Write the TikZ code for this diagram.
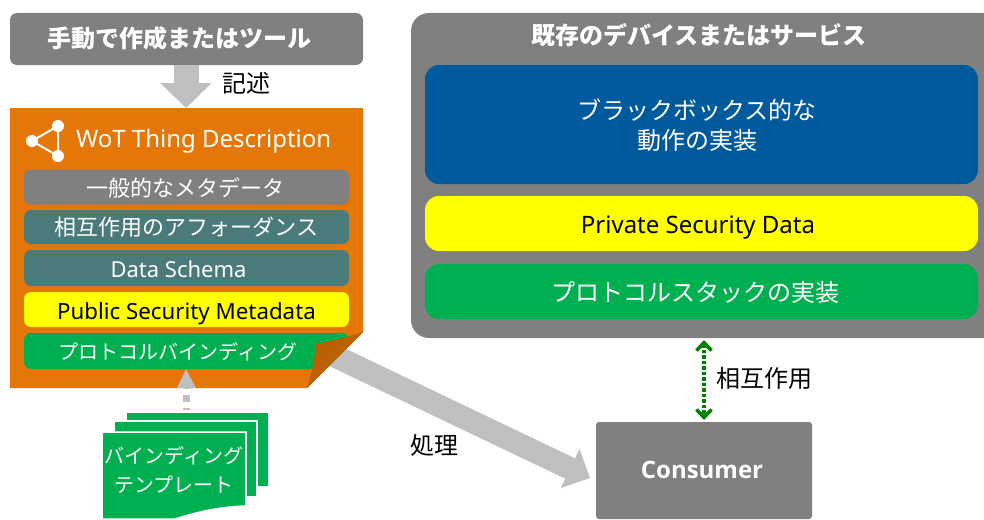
\documentclass[tikz,border=0pt]{standalone}
\usepackage{fontspec}
\usetikzlibrary{arrows.meta,calc}
\setmainfont{Noto Sans}
\newfontfamily\cjk{Noto Sans CJK JP}
\newfontfamily\boldlatin{Open Sans}
\definecolor{boxgray}{HTML}{808080}
\definecolor{arrowgray}{HTML}{BFBFBF}
\definecolor{noteorange}{HTML}{E57708}
\definecolor{folddark}{HTML}{BC5F05}
\definecolor{teal}{HTML}{4A7A7A}
\definecolor{wotgreen}{HTML}{00B050}
\definecolor{wotblue}{HTML}{005A9C}
\definecolor{wotyellow}{HTML}{FFFF00}
\definecolor{linkgreen}{HTML}{008000}
\tikzset{
  panel/.style={inner sep=0pt,outer sep=0pt,align=center,text=white},
  rowbox/.style={panel,rounded corners=7pt,minimum width=325pt},
  bigbox/.style={panel,rounded corners=14pt,minimum width=553pt},
  lbl/.style={inner sep=0pt,outer sep=0pt,text=black},
  page/.style={fill=wotgreen,draw=white,line width=1.5pt},
}
\newcommand{\fs}[1]{\fontsize{#1}{#1}\selectfont}
\begin{document}
\begin{tikzpicture}[x=1pt,y=-1pt]
\useasboundingbox (0,0) rectangle (984,519);
\clip (0,0) rectangle (984,519);
\fill[white] (0,0) rectangle (984,519);
% top left
\node[panel,fill=boxgray,rounded corners=7pt,minimum width=353pt,minimum height=52pt] (tool) at (186.5,39) {};
\node[panel] (tooltext) at (179,38) {\cjk\bfseries\fs{24}手動で作成またはツール};
% note anchor points
\coordinate (notetop) at (186,108);
\coordinate (notecorner) at (320,349);
\coordinate (consumertip) at (590,478);
% big arrow
\draw[arrowgray,line width=22.6pt,-{Triangle[length=22pt,width=42pt]}] (notecorner) -- (consumertip);
% note
\fill[noteorange] (10,108) -- (363,108) -- (363,332) -- (307,388) -- (10,388) -- cycle;
\draw[arrowgray,line width=25pt,-{Triangle[length=25pt,width=50pt]}] (tool.south -| notetop) -- (notetop);
\node[lbl,anchor=west] (write) at (222,83) {\cjk\fs{24}記述};
% icon
\coordinate (ia) at (32,141);
\coordinate (ib) at (58,126);
\coordinate (ic) at (58,156);
\draw[white,line width=2pt] (ia) -- (ib) -- (ic) -- cycle;
\foreach \p in {ia,ib,ic} \fill[white] (\p) circle (6);
\node[panel,anchor=west] (title) at (76,141) {\fs{24}WoT Thing Description};
% rows
\node[rowbox,fill=boxgray,minimum height=35pt] (meta) at (186.5,187) {};
\node[panel] (metatext) at (185,188) {\cjk\fs{22}一般的なメタデータ};
\node[rowbox,fill=teal,minimum height=34pt] (afford) at (186.5,227) {\cjk\fs{22}相互作用のアフォーダンス};
\node[rowbox,fill=teal,minimum height=36pt] (schema) at (186.5,268) {};
\node[panel] (schematext) at (178.5,269) {\fs{22}Data Schema};
\node[rowbox,fill=wotyellow,minimum height=35pt] (pubsec) at (186.5,309.5) {};
\node[panel,text=black] (pubtext) at (186.5,314) {\fs{22.3}Public Security Metadata};
\begin{scope}
\clip (10,108) -- (363,108) -- (363,332) -- (307,388) -- (10,388) -- cycle;
\node[rowbox,fill=wotgreen,minimum height=36pt] (binding) at (186.5,351) {};
\end{scope}
\node[panel] (bindtext) at (178,352) {\cjk\fs{20}プロトコルバインディング};
% fold
\fill[folddark] (363,332) .. controls (345,338) and (330,341) .. (316,344) .. controls (315,360) and (311,375) .. (307,388) -- cycle;
% templates
\path[page] (126,412) -- (269,412) -- (269,487) -- (126,487) -- cycle;
\path[page] (114,421) -- (257,421) -- (257,497) -- (114,497) -- cycle;
\path[page] (102,432) -- (246,432) -- (246,506) .. controls (215,507) and (195,513) .. (175,519) -- (102,519) -- cycle;
\node[panel,anchor=center,font=\cjk\fontsize{20}{29}\selectfont] (tpl) at (174,469.5) {バインディング\\テンプレート};
% dashed arrow
\coordinate (tplfree) at (186,410);
\draw[arrowgray,line width=7pt,dash pattern=on 2pt off 6pt on 7pt off 6pt] (tplfree) -- (186,386);
\fill[arrowgray] (binding.south -| tplfree) -- (196,388) -- (177,388) -- cycle;
% right
\node[panel,fill=boxgray,rounded corners=18pt,minimum width=590pt,minimum height=325pt,anchor=north west] (device) at (411,13) {};
\node[panel,anchor=center] (devtitle) at (699,35) {\cjk\bfseries\fs{24}既存のデバイスまたはサービス};
\node[bigbox,fill=wotblue,minimum height=119pt] (blackbox) at (701.5,124.5) {};
\node[panel,font=\cjk\fontsize{24}{30}\selectfont] (blacktext) at (697,125) {ブラックボックス的な\\動作の実装};
\node[bigbox,fill=wotyellow,minimum height=55pt] (privsec) at (701.5,223.5) {};
\node[panel,text=black] (privtext) at (698,228) {\fs{24}Private Security Data};
\node[bigbox,fill=wotgreen,minimum height=55pt] (stack) at (701.5,291.5) {};
\node[panel] (stacktext) at (695,292) {\cjk\fs{24}プロトコルスタックの実装};
% consumer
\node[panel,fill=boxgray,rounded corners=3pt,minimum width=216pt,minimum height=97pt] (consumer) at (704,470.5) {};
\node[panel] (constext) at (702,470) {\boldlatin\bfseries\fs{24}Consumer};
\draw[linkgreen,line width=3.5pt,dotted,{Straight Barb[length=8pt,width=15pt,line width=3.5pt]}-{Straight Barb[length=8pt,width=15pt,line width=3.5pt]}] ($(consumer.north |- device.south)+(0,2)$) -- ($(consumer.north)+(0,-2)$);
\node[lbl,anchor=west] (interact) at (716,378.5) {\cjk\fs{24}相互作用};
\node[lbl,anchor=west] (process) at (410,445) {\cjk\fs{24}処理};
\end{tikzpicture}
\end{document}
